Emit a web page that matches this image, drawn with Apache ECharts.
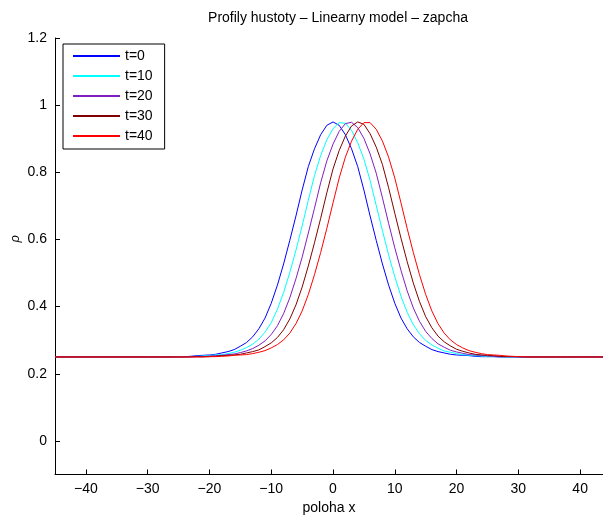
<!DOCTYPE html>
<html>
<head>
<meta charset="utf-8">
<script src="https://cdn.jsdelivr.net/npm/echarts@6/dist/echarts.min.js"></script>
<style>
  html, body { margin: 0; padding: 0; background: #fff; }
  #chart { width: 603px; height: 517px; }
</style>
</head>
<body>
<div id="chart"></div>
<script>
// Density profiles rho(x) at several times
const positions = [-45,
  -30, -29, -28, -27, -26, -25, -24, -23, -22, -21,
  -20, -19, -18, -17, -16, -15, -14, -13, -12, -11,
  -10, -9, -8, -7, -6, -5, -4, -3, -2, -1,
  0, 1, 2, 3, 4, 5, 6, 7, 8, 9,
  10, 11, 12, 13, 14, 15, 16, 17, 18, 19,
  20, 21, 22, 23, 24, 25, 26, 27, 28, 29,
  30, 31, 32, 33, 34, 35, 36, 37, 38, 39, 40,
  45];

const rhoT0 = [0.250,
  0.250, 0.250, 0.250, 0.250, 0.251, 0.251, 0.251, 0.252, 0.254, 0.255,
  0.256, 0.258, 0.262, 0.266, 0.272, 0.282, 0.293, 0.310, 0.334, 0.366,
  0.410, 0.464, 0.527, 0.597, 0.670, 0.747, 0.817, 0.870, 0.912, 0.940,
  0.950, 0.940, 0.912, 0.870, 0.817, 0.747, 0.670, 0.597, 0.527, 0.464,
  0.410, 0.366, 0.334, 0.310, 0.293, 0.282, 0.272, 0.266, 0.262, 0.258,
  0.256, 0.255, 0.254, 0.252, 0.251, 0.251, 0.251, 0.250, 0.250, 0.250,
  0.250, 0.250, 0.250, 0.250, 0.250, 0.250, 0.250, 0.250, 0.250, 0.250, 0.250,
  0.250];
const rhoT10 = [0.250,
  0.250, 0.250, 0.250, 0.250, 0.250, 0.251, 0.251, 0.251, 0.252, 0.253,
  0.255, 0.256, 0.257, 0.260, 0.264, 0.270, 0.278, 0.288, 0.303, 0.324,
  0.352, 0.392, 0.442, 0.501, 0.568, 0.640, 0.717, 0.790, 0.850, 0.897,
  0.930, 0.948, 0.946, 0.925, 0.888, 0.839, 0.776, 0.701, 0.626, 0.554,
  0.489, 0.431, 0.383, 0.346, 0.319, 0.299, 0.286, 0.276, 0.268, 0.264,
  0.260, 0.257, 0.255, 0.254, 0.253, 0.251, 0.251, 0.251, 0.250, 0.250,
  0.250, 0.250, 0.250, 0.250, 0.250, 0.250, 0.250, 0.250, 0.250, 0.250, 0.250,
  0.250];
const rhoT20 = [0.250,
  0.250, 0.250, 0.250, 0.250, 0.250, 0.250, 0.250, 0.251, 0.251, 0.251,
  0.253, 0.254, 0.255, 0.257, 0.259, 0.263, 0.268, 0.275, 0.285, 0.298,
  0.317, 0.343, 0.379, 0.426, 0.483, 0.547, 0.619, 0.693, 0.769, 0.834,
  0.884, 0.922, 0.945, 0.949, 0.933, 0.901, 0.855, 0.797, 0.724, 0.648,
  0.575, 0.508, 0.447, 0.396, 0.356, 0.326, 0.305, 0.289, 0.279, 0.270,
  0.265, 0.261, 0.257, 0.256, 0.255, 0.253, 0.252, 0.251, 0.251, 0.251,
  0.250, 0.250, 0.250, 0.250, 0.250, 0.250, 0.250, 0.250, 0.250, 0.250, 0.250,
  0.250];
const rhoT30 = [0.250,
  0.250, 0.250, 0.250, 0.250, 0.250, 0.250, 0.250, 0.250, 0.251, 0.251,
  0.251, 0.252, 0.254, 0.255, 0.256, 0.258, 0.262, 0.266, 0.271, 0.281,
  0.292, 0.308, 0.331, 0.363, 0.405, 0.458, 0.521, 0.590, 0.663, 0.739,
  0.810, 0.865, 0.908, 0.938, 0.950, 0.943, 0.915, 0.875, 0.823, 0.754,
  0.678, 0.604, 0.534, 0.470, 0.415, 0.370, 0.337, 0.312, 0.295, 0.283,
  0.273, 0.267, 0.262, 0.258, 0.256, 0.255, 0.254, 0.252, 0.251, 0.251,
  0.251, 0.250, 0.250, 0.250, 0.250, 0.250, 0.250, 0.250, 0.250, 0.250, 0.250,
  0.250];
const rhoT40 = [0.250,
  0.250, 0.250, 0.250, 0.250, 0.250, 0.250, 0.250, 0.250, 0.250, 0.250,
  0.251, 0.251, 0.252, 0.253, 0.255, 0.256, 0.257, 0.260, 0.264, 0.269,
  0.277, 0.287, 0.301, 0.321, 0.349, 0.387, 0.436, 0.495, 0.561, 0.633,
  0.709, 0.783, 0.845, 0.893, 0.928, 0.948, 0.948, 0.928, 0.893, 0.845,
  0.783, 0.709, 0.633, 0.561, 0.495, 0.436, 0.387, 0.349, 0.321, 0.301,
  0.287, 0.277, 0.269, 0.264, 0.260, 0.257, 0.256, 0.255, 0.253, 0.252,
  0.251, 0.251, 0.250, 0.250, 0.250, 0.250, 0.250, 0.250, 0.250, 0.250, 0.250,
  0.250];

const seriesNames = ['t=0', 't=10', 't=20', 't=30', 't=40'];
const seriesValues = [rhoT0, rhoT10, rhoT20, rhoT30, rhoT40];
const seriesColors = ['#0000ff', '#00ffff', '#7f1fbf', '#800000', '#ff0000'];

const xTicks = [-40, -30, -20, -10, 0, 10, 20, 30, 40];
const yTicks = [0, 0.2, 0.4, 0.6, 0.8, 1, 1.2];

const FONT = '"Liberation Sans", Arial, Helvetica, sans-serif';
const minus = v => String(v).replace('-', '\u2212');

const chart = echarts.init(document.getElementById('chart'), null, { renderer: 'canvas' });

chart.setOption({
  animation: false,
  backgroundColor: '#ffffff',
  textStyle: { fontFamily: FONT },
  title: {
    text: 'Profily hustoty \u2013 Linearny model \u2013 zapcha',
    left: 333,
    top: 6,
    textAlign: 'center',
    textStyle: { fontFamily: FONT, fontSize: 14, fontWeight: 'normal', color: '#000' }
  },
  grid: { left: 55, right: 0, top: 38, bottom: 42.5, containLabel: false, outerBoundsMode: 'none' },
  legend: {
    data: seriesNames,
    orient: 'vertical',
    left: 63,
    top: 44,
    itemWidth: 47,
    itemHeight: 14,
    itemGap: 6,
    padding: [5, 12, 6, 9],
    borderColor: '#000',
    borderWidth: 1,
    backgroundColor: '#fff',
    itemStyle: { opacity: 0 },
    textStyle: { fontFamily: FONT, fontSize: 14, color: '#000' }
  },
  graphic: [{
    type: 'text',
    left: 9,
    top: 235,
    rotation: Math.PI / 2,
    style: { text: '\u03c1', fontFamily: FONT, fontSize: 13, fontStyle: 'italic', fill: '#000' }
  }],
  xAxis: {
    type: 'value',
    min: -45,
    max: 43.7,
    name: 'poloha x',
    nameLocation: 'middle',
    nameGap: 26,
    nameTextStyle: { fontFamily: FONT, fontSize: 14, color: '#000' },
    axisLine: { show: true, onZero: false, lineStyle: { color: '#000', width: 1 } },
    axisTick: { show: true, inside: true, length: 5, customValues: xTicks, lineStyle: { color: '#000' } },
    axisLabel: { customValues: xTicks, formatter: minus, margin: 8, fontFamily: FONT, fontSize: 14, color: '#000' },
    splitLine: { show: false }
  },
  yAxis: {
    type: 'value',
    min: -0.1,
    max: 1.2,
    axisLine: { show: true, onZero: false, lineStyle: { color: '#000', width: 1 } },
    axisTick: { show: true, inside: true, length: 5, customValues: yTicks, lineStyle: { color: '#000' } },
    axisLabel: { customValues: yTicks, formatter: minus, margin: 8, fontFamily: FONT, fontSize: 14, color: '#000' },
    splitLine: { show: false }
  },
  series: seriesNames.map((name, i) => ({
    name,
    type: 'line',
    data: positions.map((x, k) => [x, seriesValues[i][k]]),
    smooth: false,
    symbol: 'none',
    clip: true,
    lineStyle: { color: seriesColors[i], width: 1 },
    itemStyle: { color: seriesColors[i] },
    z: 2 + i
  }))
});
</script>
</body>
</html>
